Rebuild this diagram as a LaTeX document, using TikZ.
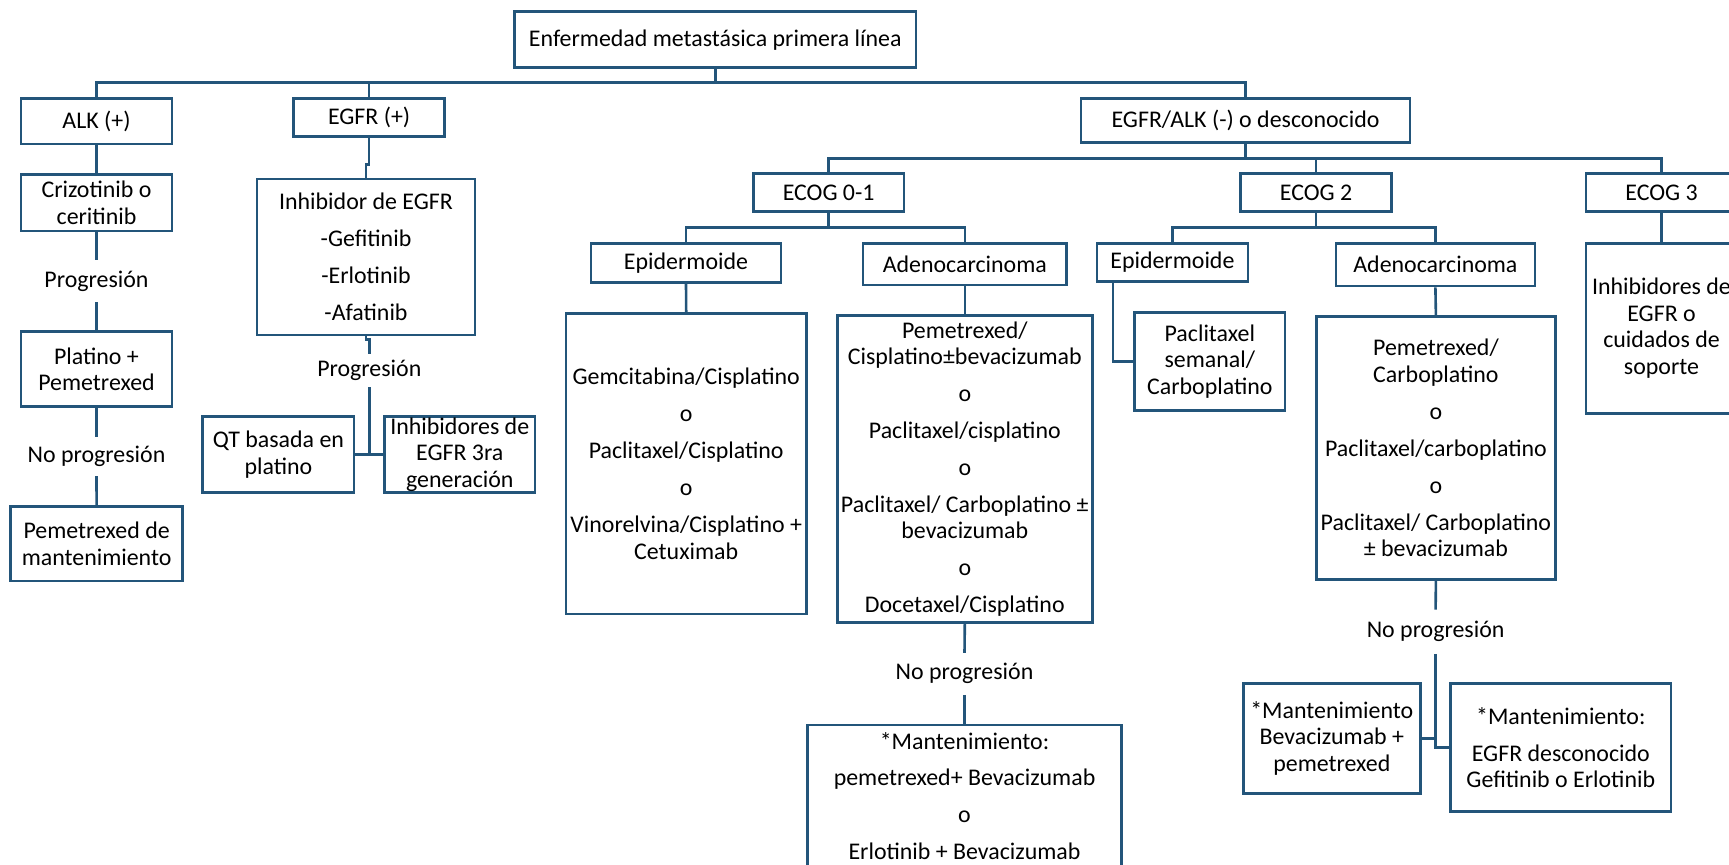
\documentclass[tikz,border=0pt]{standalone}
\usepackage{fontspec}
\setmainfont{Carlito}
\usetikzlibrary{calc, positioning}

\begin{document}
\begin{tikzpicture}[x=0.1618mm, y=-0.1618mm, font=\fontsize{11}{12.2}\selectfont]
\def\px{0.1618mm}
\def\gap{4.8pt}
\definecolor{boxblue}{RGB}{35,85,122}
\tikzset{
  box/.style={draw=boxblue, line width=1.2pt, inner sep=0pt, align=center},
  lbl/.style={inner sep=0pt, align=center},
  link/.style={draw=boxblue, line width=1.2pt},
}
\useasboundingbox (0,0) rectangle (1729,864);

% first level
\node[box, minimum width=401.5*\px, minimum height=56*\px] (root) at (715.25,39.7)
    {Enfermedad metastásica primera línea};
\node[box, minimum width=151*\px, minimum height=45.7*\px] (alk) at (96.5,121.2) {ALK (+)};
\node[box, minimum width=151.2*\px, minimum height=38.4*\px] (egfr) at (369.1,117.5) {EGFR (+)};
\node[box, minimum width=329*\px, minimum height=44.4*\px] (neg) at (1245.5,120.5)
    {EGFR/ALK (-) o desconocido};
\coordinate (busA) at (0,82.7);

\draw[link] (alk.north) |- (busA -| neg.north) -- (neg.north);
\draw[link] (root.south) -- (root.south |- busA);
\draw[link] (egfr.north) -- (egfr.north |- busA);

% ALK (+)
\node[box, minimum width=151*\px, minimum height=56.7*\px] (criz) at (96.5,202.7)
    {Crizotinib o\\ceritinib};
\node[lbl, minimum height=41.7*\px] (progA) at (96.5,280.85) {Progresión};
\node[box, minimum width=151*\px, minimum height=75*\px] (plat) at (96.5,369.2)
    {Platino +\\Pemetrexed};
\node[lbl, minimum height=38.4*\px] (noprogA) at (96.5,456.5) {No progresión};
\node[box, minimum width=171.8*\px, minimum height=74.3*\px] (pemMant) at (96.6,543.9)
    {Pemetrexed de\\mantenimiento};

\draw[link] (alk.south) -- (criz.north);
\draw[link] (criz.south) -- (progA.north);
\draw[link] (progA.south) -- (plat.north);
\draw[link] (plat.south) -- (noprogA.north);
\draw[link] (noprogA.south) -- (pemMant.north);

% EGFR (+)
\node[box, minimum width=218*\px, minimum height=156*\px] (inhib) at (366,257)
    {Inhibidor de EGFR\\[\gap]-Gefitinib\\[\gap]-Erlotinib\\[\gap]-Afatinib};
\node[lbl, minimum height=32.7*\px] (progB) at (369.3,370.35) {Progresión};
\node[box, minimum width=151.2*\px, minimum height=75.6*\px] (qt) at (278.4,454.5)
    {QT basada en\\platino};
\node[box, minimum width=150.4*\px, minimum height=75.6*\px] (inhNew) at (459.8,454.5)
    {Inhibidores de\\EGFR 3ra\\generación};

\draw[link] (egfr.south) -- ++(0,26.3) -| (inhib.north);
\draw[link] (inhib.south) -- ++(0,3) -| (progB.north);
\draw[link] (progB.south) -- (progB.south |- qt.east);
\draw[link] (qt.east) -- (inhNew.west);

% EGFR/ALK (-)
\node[box, minimum width=150.7*\px, minimum height=38.4*\px] (ecogA) at (828.65,192.5) {ECOG 0-1};
\node[box, minimum width=150.7*\px, minimum height=38.4*\px] (ecogB) at (1316,192.5) {ECOG 2};
\node[box, minimum width=151*\px, minimum height=38.4*\px] (ecogC) at (1661.5,192.5) {ECOG 3};
\coordinate (busB) at (0,158.3);
\coordinate (busC) at (0,227.7);

\draw[link] (ecogA.north) |- (busB -| ecogC.north) -- (ecogC.north);
\draw[link] (neg.south) -- (neg.south |- busB);
\draw[link] (ecogB.north) -- (ecogB.north |- busB);

\node[box, minimum width=190*\px, minimum height=39*\px] (epiA) at (686,262.8) {Epidermoide};
\node[box, minimum width=203.6*\px, minimum height=41.7*\px] (adeA) at (964.8,264.2) {Adenocarcinoma};
\node[box, minimum width=151.2*\px, minimum height=38.4*\px] (epiB) at (1172.4,262.5) {Epidermoide};
\node[box, minimum width=199.2*\px, minimum height=42.7*\px] (adeB) at (1435.4,264.7) {Adenocarcinoma};

\draw[link] (epiA.north) |- (busC -| adeA.north) -- (adeA.north);
\draw[link] (ecogA.south) -- (ecogA.south |- busC);
\draw[link] (epiB.north) |- (busC -| adeB.north) -- (adeB.north);
\draw[link] (ecogB.south) -- (ecogB.south |- busC);

\node[box, minimum width=240.4*\px, minimum height=300.7*\px] (gem) at (686.2,463.7)
    {Gemcitabina/Cisplatino\\[\gap]o\\[\gap]Paclitaxel/Cisplatino\\[\gap]o\\[\gap]%
     Vinorelvina/Cisplatino +\\Cetuximab};
\node[box, minimum width=255*\px, minimum height=306.6*\px] (pemA) at (964.8,469)
    {Pemetrexed/\\Cisplatino±bevacizumab\\[\gap]o\\[\gap]Paclitaxel/cisplatino\\[\gap]o\\[\gap]%
     Paclitaxel/ Carboplatino ±\\bevacizumab\\[\gap]o\\[\gap]Docetaxel/Cisplatino};
\node[box, minimum width=150.5*\px, minimum height=98.4*\px] (pacB) at (1209.8,361.5)
    {Paclitaxel\\semanal/\\Carboplatino};
\node[box, minimum width=239.1*\px, minimum height=262.6*\px] (pemB) at (1435.9,448)
    {Pemetrexed/\\Carboplatino\\[\gap]o\\[\gap]Paclitaxel/carboplatino\\[\gap]o\\[\gap]%
     Paclitaxel/ Carboplatino\\± bevacizumab};
\node[box, minimum width=151*\px, minimum height=170*\px] (soporte) at (1661.5,328.3)
    {Inhibidores de\\EGFR o\\cuidados de\\soporte};

\draw[link] (epiA.south) -- (gem.north);
\draw[link] (adeA.south) -- (pemA.north);
\draw[link] ([xshift=-59.6*\px]epiB.south) |- (pacB.west);
\draw[link] (adeB.south) -- (pemB.north);
\draw[link] (ecogC.south) -- (soporte.north);

% mantenimiento
\node[lbl, minimum height=41*\px] (noprogC) at (964.5,673.8) {No progresión};
\node[box, minimum width=314.4*\px, minimum height=142*\px] (mantC) at (964.5,796)
    {*Mantenimiento:\\[\gap]pemetrexed+ Bevacizumab\\[\gap]o\\[\gap]Erlotinib + Bevacizumab};
\node[lbl, minimum height=43.3*\px] (noprogD) at (1435.6,631.65) {No progresión};
\node[box, minimum width=176.8*\px, minimum height=110*\px] (mantD) at (1331.8,738.3)
    {*Mantenimiento\\Bevacizumab +\\pemetrexed};
\node[box, minimum width=220.2*\px, minimum height=128.4*\px] (mantE) at (1560.8,747.5)
    {*Mantenimiento:\\[\gap]EGFR desconocido\\Gefitinib o Erlotinib};

\draw[link] (pemA.south) -- (noprogC.north);
\draw[link] (noprogC.south) -- (mantC.north);
\draw[link] (pemB.south) -- (noprogD.north);
\draw[link] (noprogD.south) |- (mantE.west);
\draw[link] (mantD.east) -- (mantD.east -| noprogD.south);
\end{tikzpicture}
\end{document}
